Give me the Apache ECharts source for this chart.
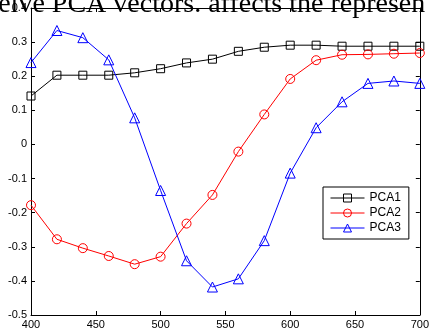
<!DOCTYPE html>
<html>
<head>
<meta charset="utf-8">
<script src="https://cdn.jsdelivr.net/npm/echarts@6/dist/echarts.min.js"></script>
<style>
  html, body { margin: 0; padding: 0; background: #fff; }
  #chart { width: 432px; height: 334px; }
</style>
</head>
<body>
<div id="chart"></div>
<script>
// Wavelength samples (nm) and the loading of each principal component
const wavelengths = [400, 420, 440, 460, 480, 500, 520, 540, 560, 580, 600, 620, 640, 660, 680, 700];
const pca1 = [0.142, 0.203, 0.203, 0.203, 0.210, 0.222, 0.239, 0.250, 0.273, 0.285, 0.291, 0.291, 0.288, 0.288, 0.288, 0.288];
const pca2 = [-0.178, -0.278, -0.304, -0.327, -0.351, -0.329, -0.232, -0.148, -0.021, 0.088, 0.192, 0.247, 0.263, 0.264, 0.266, 0.268];
const pca3 = [0.240, 0.334, 0.313, 0.248, 0.078, -0.135, -0.341, -0.418, -0.394, -0.282, -0.084, 0.049, 0.125, 0.179, 0.186, 0.179];
const seriesNames = ['PCA1', 'PCA2', 'PCA3'];
const headline = 'receive PCA vectors. affects the represen';

const pairs = ys => wavelengths.map((w, i) => [w, ys[i]]);

const tickFont = { fontFamily: 'Arial, "Liberation Sans", sans-serif', fontSize: 11, color: '#000' };
const lineAxis = { onZero: false, lineStyle: { color: '#000', width: 1 } };
const innerTick = { show: true, inside: true, length: 4, lineStyle: { color: '#000', width: 1 } };

function fmtY(v) {
  const r = Math.round(v * 10) / 10;
  return r === 0 ? '0' : String(r);
}

// Hollow outline markers: transparent fill, thin coloured stroke
function makeSeries(name, data, color, symbol, size) {
  return {
    name: name,
    type: 'line',
    data: data,
    symbol: symbol,
    symbolSize: size,
    showAllSymbol: true,
    lineStyle: { color: color, width: 1 },
    itemStyle: { color: 'rgba(255,255,255,0)', borderColor: color, borderWidth: 1 },
    emphasis: { disabled: true },
    animation: false,
    z: 3
  };
}

const chart = echarts.init(document.getElementById('chart'), null, { renderer: 'canvas' });
chart.setOption({
  backgroundColor: '#fff',
  animation: false,
  grid: { left: 31, right: 9, top: 8, bottom: 19, show: false },
  xAxis: [
    {
      type: 'value', min: 400, max: 700, interval: 50, position: 'bottom',
      axisLine: lineAxis, axisTick: innerTick, splitLine: { show: false },
      axisLabel: Object.assign({ margin: 4, showMaxLabel: true, showMinLabel: true }, tickFont)
    },
    {
      type: 'value', min: 400, max: 700, interval: 50, position: 'top',
      axisLine: lineAxis, axisTick: innerTick, splitLine: { show: false },
      axisLabel: { show: false }
    }
  ],
  yAxis: [
    {
      type: 'value', min: -0.5, max: 0.4, interval: 0.1, position: 'left',
      axisLine: lineAxis, axisTick: innerTick, splitLine: { show: false },
      axisLabel: Object.assign({ margin: 4, formatter: fmtY }, tickFont)
    },
    {
      type: 'value', min: -0.5, max: 0.4, interval: 0.1, position: 'right',
      axisLine: lineAxis, axisTick: innerTick, splitLine: { show: false },
      axisLabel: { show: false }
    }
  ],
  legend: {
    orient: 'vertical',
    left: 323, top: 187,
    padding: [5, 8, 5, 7],
    itemGap: 3,
    itemWidth: 34, itemHeight: 10,
    backgroundColor: '#fff',
    borderColor: '#000', borderWidth: 1,
    selectedMode: false,
    itemStyle: { borderWidth: 1 },
    lineStyle: { width: 1 },
    textStyle: Object.assign({}, tickFont, { fontSize: 12 }),
    data: seriesNames
  },
  series: [
    makeSeries(seriesNames[0], pairs(pca1), '#000000', 'rect', 8),
    makeSeries(seriesNames[1], pairs(pca2), '#ff0000', 'circle', 9),
    makeSeries(seriesNames[2], pairs(pca3), '#0000ff', 'triangle', 10)
  ],
  graphic: [
    {
      type: 'text', left: -36, top: -9, z: 100, silent: true,
      style: {
        text: headline,
        font: '28px "Liberation Serif", "Times New Roman", serif',
        fill: '#000'
      }
    }
  ]
});
</script>
</body>
</html>
